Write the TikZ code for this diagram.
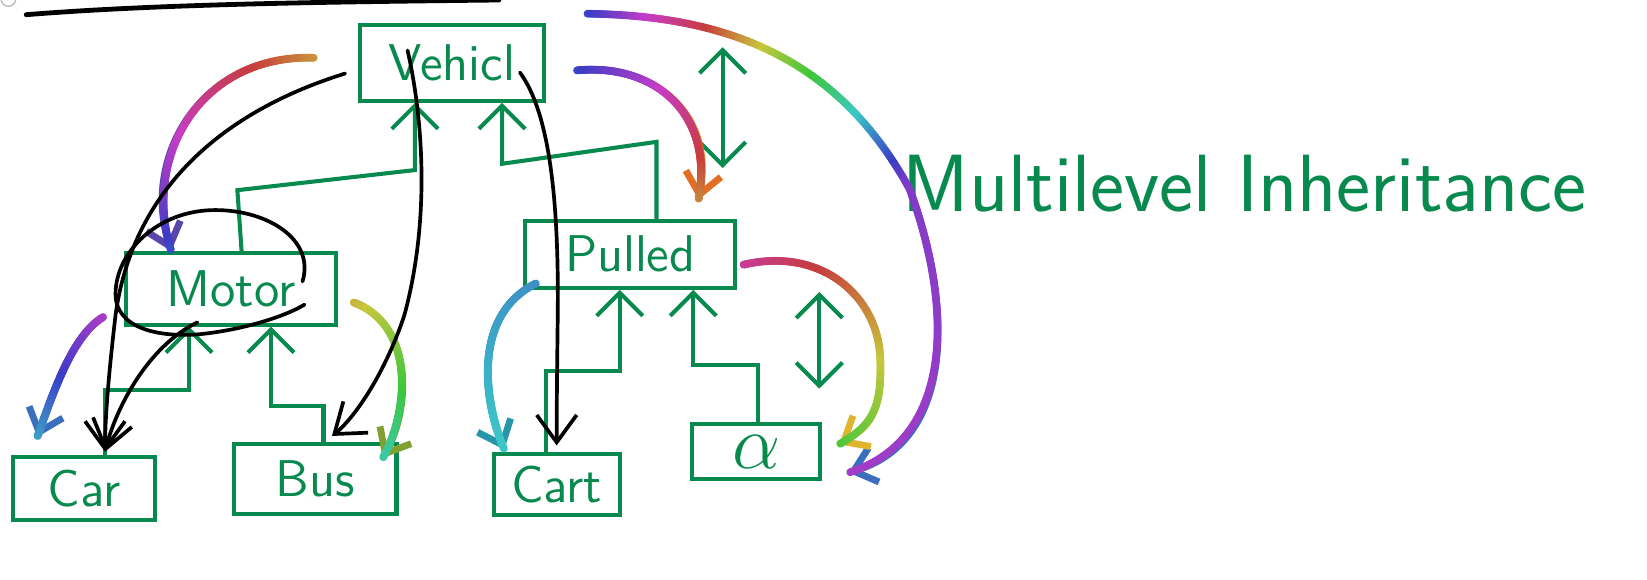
\documentclass[tikz,border=0pt]{standalone}
\usepackage{xcolor}
\usepackage{tikz}
\usetikzlibrary{arrows.meta, decorations.markings}

\definecolor{ink}{RGB}{8,138,78}
\definecolor{rbblue}{RGB}{60,110,190}
\definecolor{rbpurple}{RGB}{90,70,170}
\definecolor{rborange}{RGB}{225,110,35}
\definecolor{rbyellow}{RGB}{225,180,45}
\definecolor{rbteal}{RGB}{40,150,170}
\definecolor{rbolive}{RGB}{130,160,50}

\begin{document}
\begin{tikzpicture}[x=0.1mm, y=-0.1mm,
  cls/.style={draw=ink, line width=1.1pt, text=ink, inner sep=0pt, font=\sffamily\fontsize{14}{16}\selectfont},
  isa/.style={draw=ink, line width=1.1pt, line cap=round, -{Straight Barb[length=2.2mm,width=4.4mm]}},
  twoway/.style={isa, {Straight Barb[length=2.2mm,width=4.4mm]}-{Straight Barb[length=2.2mm,width=4.4mm]}},
  jump/.style={draw=black, line width=1pt, line cap=round, -{Straight Barb[length=2.6mm,width=3.8mm]}},
  scribble/.style={draw=black, line width=1pt, line cap=round},
  rainbow/.style 2 args={line width=0.65mm, line cap=round,
    -{Straight Barb[length=2mm,width=3.4mm]},
    decoration={markings, mark=between positions 0 and 1 step 0.005 with {
      \pgfmathtruncatemacro\rbhue{mod(#1+(#2-#1)*0.005*\pgfkeysvalueof{/pgf/decoration/mark info/sequence number},360)}
      \definecolor{rbdot}{Hsb}{\rbhue,0.7,0.78}
      \fill[rbdot] (0,0) circle (0.38mm);}},
    postaction={decorate, draw=none}}]
\useasboundingbox (0,0) rectangle (1568,552);

% top stroke
\draw[gray!50] (8,-1) circle (0.7mm);
\draw[scribble, line width=1.3pt] (25,14) .. controls (150,4) and (300,2) .. (475,0);

% classes
\node[cls, minimum width=17.5mm, minimum height=7.2mm] (vehicl) at (430,60) {Vehicl};
\node[cls, minimum width=20mm, minimum height=6.8mm] (motor) at (220,275) {Motor};
\node[cls, minimum width=20mm, minimum height=6.4mm] (pulled) at (600,242) {Pulled};
\node[cls, minimum width=13.5mm, minimum height=6mm] (car) at (80,465) {Car};
\node[cls, minimum width=15.5mm, minimum height=6.6mm] (bus) at (300,456) {Bus};
\node[cls, minimum width=12mm, minimum height=5.8mm] (cart) at (530,461) {Cart};
\node[cls, minimum width=12.2mm, minimum height=5.2mm, font=\fontsize{20}{22}\selectfont] (alpha) at (720,430) {$\alpha$};

\node[text=ink, font=\sffamily\fontsize{22}{26}\selectfont] (heading) at (1185,175) {Multilevel Inheritance};

% inheritance
\draw[isa] ([xshift=2mm]car.north) |- ([xshift=-4mm,yshift=-6mm]motor.south) -- ([xshift=-4mm]motor.south);
\draw[isa] ([xshift=0.8mm]bus.north) |- ([xshift=3.8mm,yshift=-7.6mm]motor.south) -- ([xshift=3.8mm]motor.south);
\draw[isa] ([xshift=1mm]motor.north) -- ([xshift=0.6mm,yshift=5.8mm]motor.north) -- ([xshift=-3.5mm,yshift=-6.4mm]vehicl.south) -- ([xshift=-3.5mm]vehicl.south);
\draw[isa] ([xshift=2.5mm]pulled.north) -- ([xshift=2.5mm,yshift=7.3mm]pulled.north) -- ([xshift=4.8mm,yshift=-5.8mm]vehicl.south) -- ([xshift=4.8mm]vehicl.south);
\draw[isa] ([xshift=-1mm]cart.north) |- ([xshift=-1mm,yshift=-7.7mm]pulled.south) -- ([xshift=-1mm]pulled.south);
\draw[isa] ([xshift=0.2mm]alpha.north) |- ([xshift=6mm,yshift=-7.2mm]pulled.south) -- ([xshift=6mm]pulled.south);

\coordinate (up1) at (688,45);
\coordinate (dn1) at (688,160);
\draw[twoway] (up1) -- (dn1);
\coordinate (up2) at (780,278);
\coordinate (dn2) at (780,370);
\draw[twoway] (up2) -- (dn2);

% rainbow arrows
\path[rainbow={400}{235}, draw=rbpurple] ([shift={(-4.2mm,0.5mm)}]vehicl.west) .. controls (190,52) and (135,150) .. ([xshift=-5.7mm]motor.north);
\path[rainbow={235}{390}, draw=rborange] ([shift={(3mm,-0.7mm)}]vehicl.east) .. controls (625,60) and (680,110) .. ([shift={(6.5mm,1.8mm)}]pulled.north);
\coordinate (bend) at (866,180);
\path[rainbow={235}{630}, -] ([shift={(4mm,0.9mm)}]vehicl.north east) .. controls (700,15) and (800,60) .. (bend);
\path[rainbow={630}{645}, draw=rbblue] (bend) .. controls (910,300) and (905,420) .. ([shift={(2.5mm,-2mm)}]alpha.east);
\path[rainbow={320}{470}, draw=rbyellow] ([shift={(0.6mm,-1mm)}]pulled.east) .. controls (780,235) and (835,280) .. (838,340) .. controls (840,390) and (830,405) .. ([shift={(1.6mm,0.7mm)}]alpha.east);
\path[rainbow={205}{180}, draw=rbteal] ([shift={(1.2mm,0.6mm)}]pulled.south west) .. controls (450,300) and (460,380) .. ([shift={(1.2mm,0.2mm)}]cart.north west);
\path[rainbow={50}{165}, draw=rbolive] ([shift={(1.5mm,-1.3mm)}]motor.east) .. controls (395,310) and (390,390) .. ([shift={(-1.5mm,-1.5mm)}]bus.north east);
\path[rainbow={290}{200}, draw=rbblue] ([shift={(-2mm,0.9mm)}]motor.south west) .. controls (72,318) and (55,360) .. ([shift={(2.5mm,1.7mm)}]car.north west);

% black arrows
\draw[jump] ([shift={(-1.2mm,-1mm)}]vehicl.west) .. controls (200,110) and (125,190) .. (110,300) .. controls (103,360) and (100,400) .. ([shift={(2mm,0.3mm)}]car.north);
\draw[jump] ([shift={(-4.2mm,1.2mm)}]vehicl.center) .. controls (400,100) and (412,200) .. (385,300) .. controls (365,360) and (335,400) .. ([shift={(1.6mm,0.6mm)}]bus.north);
\draw[jump] ([shift={(6.5mm,-0.9mm)}]vehicl.center) .. controls (525,110) and (532,200) .. (531,300) .. controls (530,380) and (530,400) .. ([yshift=0.6mm]cart.north);
\draw[scribble] (288,268) .. controls (300,228) and (255,200) .. (205,200) .. controls (150,200) and (110,240) .. (110,280) .. controls (110,312) and (150,322) .. (192,318) .. controls (230,314) and (270,302) .. (290,290);
\draw[jump] ([shift={(-3.2mm,0.4mm)}]motor.south) .. controls (140,330) and (110,390) .. ([shift={(2mm,0.3mm)}]car.north);
\end{tikzpicture}
\end{document}
